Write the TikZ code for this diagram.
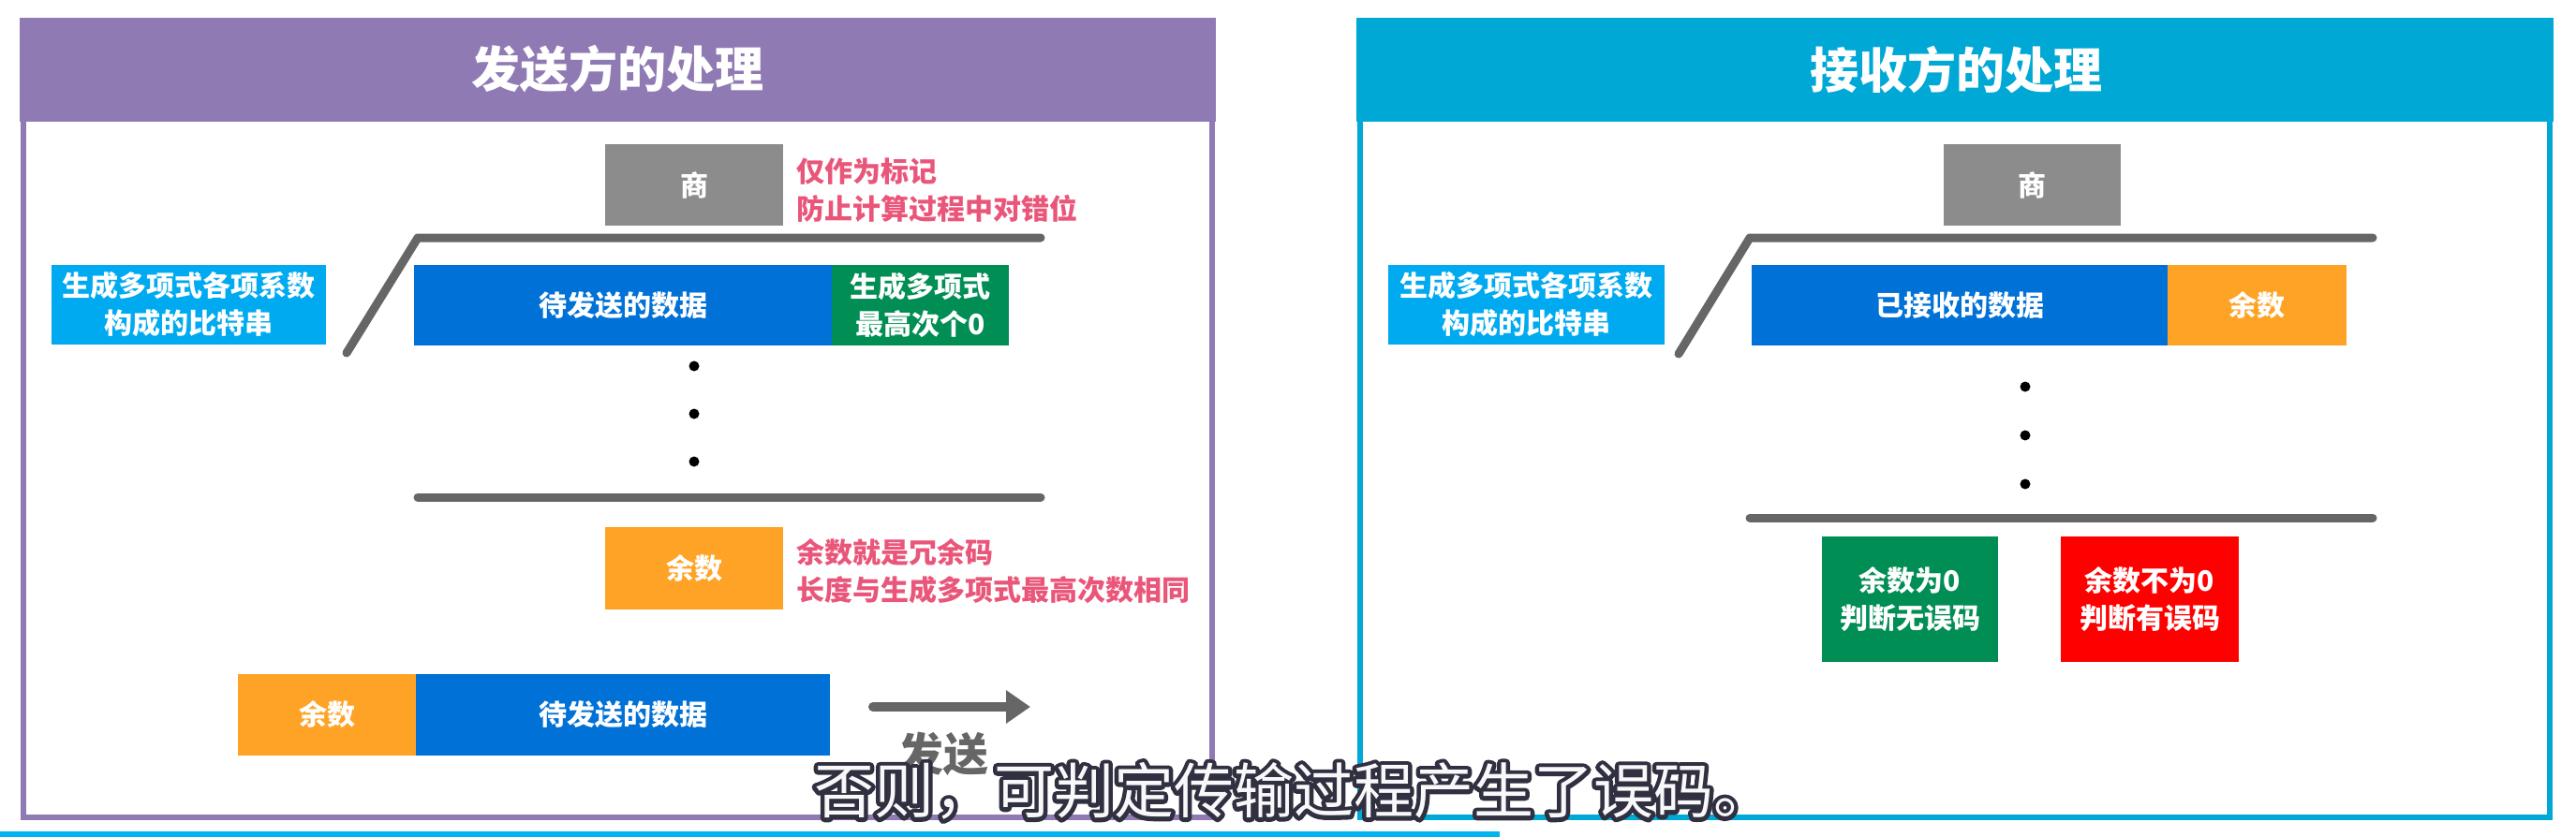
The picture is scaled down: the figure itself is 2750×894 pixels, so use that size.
\documentclass[tikz,border=0pt]{standalone}
\usepackage{fontspec}
\newfontfamily\cjk{Noto Sans CJK SC}
\usetikzlibrary{arrows.meta,calc}
\definecolor{purp}{RGB}{144,122,180}
\definecolor{cyanhd}{RGB}{0,168,214}
\definecolor{ltblue}{RGB}{0,170,240}
\definecolor{dblue}{RGB}{0,113,214}
\definecolor{grn}{RGB}{0,142,84}
\definecolor{orng}{RGB}{255,163,38}
\definecolor{redb}{RGB}{255,0,0}
\definecolor{qgray}{RGB}{140,140,140}
\definecolor{lgray}{RGB}{102,102,102}
\definecolor{pinkt}{RGB}{234,86,122}
\definecolor{subdark}{RGB}{48,48,64}
\definecolor{subfill}{RGB}{248,248,250}
\definecolor{barcyan}{RGB}{0,180,240}
\newcommand{\strokeon}{\special{pdf:literal direct 2 Tr 9 w 1 j 0.19 0.19 0.25 RG}}
\newcommand{\strokeoff}{\special{pdf:literal direct 0 Tr}}
\begin{document}
\begin{tikzpicture}[x=1pt,y=-1pt,
  box/.style={draw=none, inner sep=0pt, outer sep=0pt, anchor=north west, text=white, align=center,
    font=\cjk\bfseries\fontsize{30}{40}\selectfont},
  bx/.style n args={2}{minimum width=#1pt, minimum height=#2pt},
  note/.style={anchor=west, inner sep=0pt, text=pinkt, align=left, font=\cjk\bfseries\fontsize{30}{40}\selectfont},
  rule/.style={draw=lgray, line width=9pt, line cap=round, line join=round},
  dotmark/.style={circle, fill=black, inner sep=0pt, minimum size=11pt},
  title/.style={text=white, font=\cjk\bfseries\fontsize{52}{60}\selectfont, inner sep=0pt},
  subt/.style={inner sep=0pt, font=\cjk\fontsize{64}{70}\selectfont},
  ]
\useasboundingbox (0,0) rectangle (2750,894);
\fill[white] (0,0) rectangle (2750,894);

% ---------- left panel ----------
\draw[draw=purp, line width=6pt] (25,23) rectangle (1294,873);
\fill[purp] (21,19) rectangle (1298,130);
\node[title] (tL) at (659,74) {发送方的处理};

\node[box, bx={190}{87}, fill=qgray] (qL) at (646,154) {商};
\node[note] (nL1) at (850,203) {仅作为标记\\防止计算过程中对错位};

\node[box, bx={293}{85}, fill=ltblue] (gL) at (55,283) {生成多项式各项系数\\构成的比特串};
\node[box, bx={446}{86}, fill=dblue] (dL) at (442,283) {待发送的数据};
\node[box, bx={189}{86}, fill=grn] (zL) at (888,283) {生成多项式\\最高次个0};

\coordinate (bLa) at (370,377);
\coordinate (bLb) at (446,254);
\coordinate (bLc) at (1111,254);
\draw[rule] (bLa) -- (bLb) -- (bLc);

\node[dotmark] (dL1) at (741,391) {};
\node[dotmark] (dL2) at (741,442) {};
\node[dotmark] (dL3) at (741,493) {};

\coordinate (lLa) at (446,531);
\coordinate (lLb) at (1111,531);
\draw[rule] (lLa) -- (lLb);

\node[box, bx={190}{88}, fill=orng] (rL) at (646,563) {余数};
\node[note] (nL2) at (850,610) {余数就是冗余码\\长度与生成多项式最高次数相同};

\node[box, bx={190}{87}, fill=orng] (sR) at (254,720) {余数};
\node[box, bx={442}{87}, fill=dblue] (sD) at (444,720) {待发送的数据};

\coordinate (aS) at (932,755);
\coordinate (aE) at (1100,755);
\draw[draw=lgray, line width=10pt, line cap=round, -{Triangle[length=26pt,width=34pt]}] (aS) -- (aE);
\node[text=lgray, font=\cjk\bfseries\fontsize{48}{50}\selectfont, inner sep=0pt] (send) at (1007,805) {发送};

% ---------- right panel ----------
\draw[draw=cyanhd, line width=6pt] (1452,23) rectangle (2722,873);
\fill[cyanhd] (1448,19) rectangle (2726,130);
\node[title] (tR) at (2088,74) {接收方的处理};

\node[box, bx={189}{87}, fill=qgray] (qR) at (2075,154) {商};

\node[box, bx={295}{85}, fill=ltblue] (gR) at (1482,283) {生成多项式各项系数\\构成的比特串};
\node[box, bx={444}{86}, fill=dblue] (dR) at (1870,283) {已接收的数据};
\node[box, bx={191}{86}, fill=orng] (rR) at (2314,283) {余数};

\coordinate (bRa) at (1792,378);
\coordinate (bRb) at (1868,254);
\coordinate (bRc) at (2533,254);
\draw[rule] (bRa) -- (bRb) -- (bRc);

\node[dotmark] (dR1) at (2162,413) {};
\node[dotmark] (dR2) at (2162,465) {};
\node[dotmark] (dR3) at (2162,517) {};

\coordinate (lRa) at (1868,553);
\coordinate (lRb) at (2533,553);
\draw[rule] (lRa) -- (lRb);

\node[box, bx={188}{134}, fill=grn] (okR) at (1945,573) {余数为0\\判断无误码};
\node[box, bx={190}{134}, fill=redb] (errR) at (2200,573) {余数不为0\\判断有误码};

% ---------- overlay ----------
\fill[barcyan] (0,888) rectangle (1601,894);
\coordinate (sub) at (1381,845);
\node[subt, text=subdark] (subo) at (sub) {\strokeon 否则，可判定传输过程产生了误码。\strokeoff};
\node[subt, text=subfill] (subm) at (sub) {否则，可判定传输过程产生了误码。};
\end{tikzpicture}
\end{document}
